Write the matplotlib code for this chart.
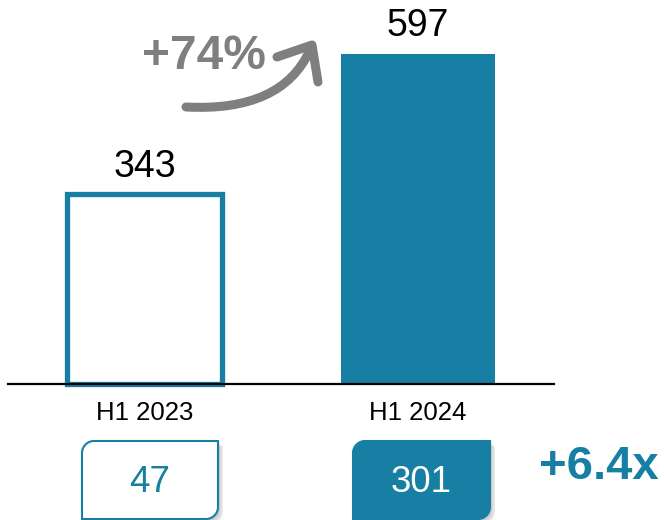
import matplotlib
matplotlib.use("Agg")
import matplotlib.pyplot as plt
from matplotlib.path import Path
from matplotlib.patches import PathPatch

plt.rcParams['font.family'] = ['Liberation Sans', 'DejaVu Sans']

# data
periods = ["H1 2023", "H1 2024"]
values = [343, 597]
sub_values = [47, 301]
growth_label = "+74%"
multiple_label = "+6.4x"

TEAL = "#167fa3"
GREY = "#7f7f7f"
W, H = 664, 520


def fx(px):
    return px / W


def fy(py):
    return 1 - py / H


def snip_box(x0, y0, x1, y1, r):
    # rounded top-left and bottom-right corners, pixel coords (y down)
    k = 0.55 * r
    verts = [
        (x0 + r, y0), (x1, y0), (x1, y1 - r),
        (x1, y1 - r + k), (x1 - r + k, y1), (x1 - r, y1),
        (x0, y1), (x0, y0 + r),
        (x0, y0 + r - k), (x0 + r - k, y0), (x0 + r, y0),
    ]
    codes = [Path.MOVETO, Path.LINETO, Path.LINETO,
             Path.CURVE4, Path.CURVE4, Path.CURVE4,
             Path.LINETO, Path.LINETO,
             Path.CURVE4, Path.CURVE4, Path.CURVE4]
    return Path([(fx(a), fy(b)) for a, b in verts], codes)


fig = plt.figure(figsize=(6.64, 5.2), dpi=100)
ax = fig.add_axes([fx(8), 136 / H, 546 / W, 384 / H])

x = [0, 1]
bars = ax.bar(x, values, width=0.563, color=["white", TEAL],
              edgecolor=[TEAL, TEAL], linewidth=[3.8, 0], zorder=2, clip_on=False)
for xi, v in zip(x, values):
    ax.annotate(str(v), (xi, v), xytext=(0, 7), textcoords="offset points",
                ha="center", va="bottom", fontsize=27, color="black")

ax.set_xlim(-0.499, 1.497)
ax.set_ylim(0, 695)
ax.set_xticks(x)
ax.set_xticklabels(periods, fontsize=18.5)
ax.tick_params(axis="x", length=0, pad=12)
ax.set_yticks([])
for s in ["top", "left", "right"]:
    ax.spines[s].set_visible(False)
ax.spines["bottom"].set_linewidth(1.6)
ax.spines["bottom"].set_zorder(3)

# growth arrow
curve = Path([(fx(186), fy(107)), (fx(282), fy(112)), (fx(310), fy(50))],
             [Path.MOVETO, Path.CURVE3, Path.CURVE3])
fig.patches.append(PathPatch(curve, transform=fig.transFigure, fill=False,
                             edgecolor=GREY, linewidth=6.5, capstyle="round"))
head = Path([(fx(277), fy(57)), (fx(312), fy(45)), (fx(318), fy(82))],
            [Path.MOVETO, Path.LINETO, Path.LINETO])
fig.patches.append(PathPatch(head, transform=fig.transFigure, fill=False,
                             edgecolor=GREY, linewidth=6.5, capstyle="round",
                             joinstyle="round"))
fig.text(fx(204), fy(56), growth_label, ha="center", va="center",
         fontsize=34.5, fontweight="bold", color=GREY)

# sub boxes
box_x = [(82, 218), (353, 490)]
for (x0, x1), v, filled in zip(box_x, sub_values, [False, True]):
    for i, a in enumerate([0.10, 0.10, 0.12]):
        d = 2 + i * 1.5
        sh = snip_box(x0 + d, 441 + d, x1 + d, 519 + d, 12)
        fig.patches.append(PathPatch(sh, transform=fig.transFigure,
                                     facecolor="#555555", edgecolor="none", alpha=a))
    p = snip_box(x0, 441, x1, 519, 12)
    fig.patches.append(PathPatch(p, transform=fig.transFigure,
                                 facecolor=TEAL if filled else "white",
                                 edgecolor=TEAL, linewidth=1.5))
    fig.text(fx((x0 + x1) / 2), fy(482), str(v), ha="center", va="center",
             fontsize=26.5, color="white" if filled else TEAL)

fig.text(fx(599), fy(467), multiple_label, ha="center", va="center",
         fontsize=34, fontweight="bold", color=TEAL)

fig.savefig("out.png", dpi=100)
